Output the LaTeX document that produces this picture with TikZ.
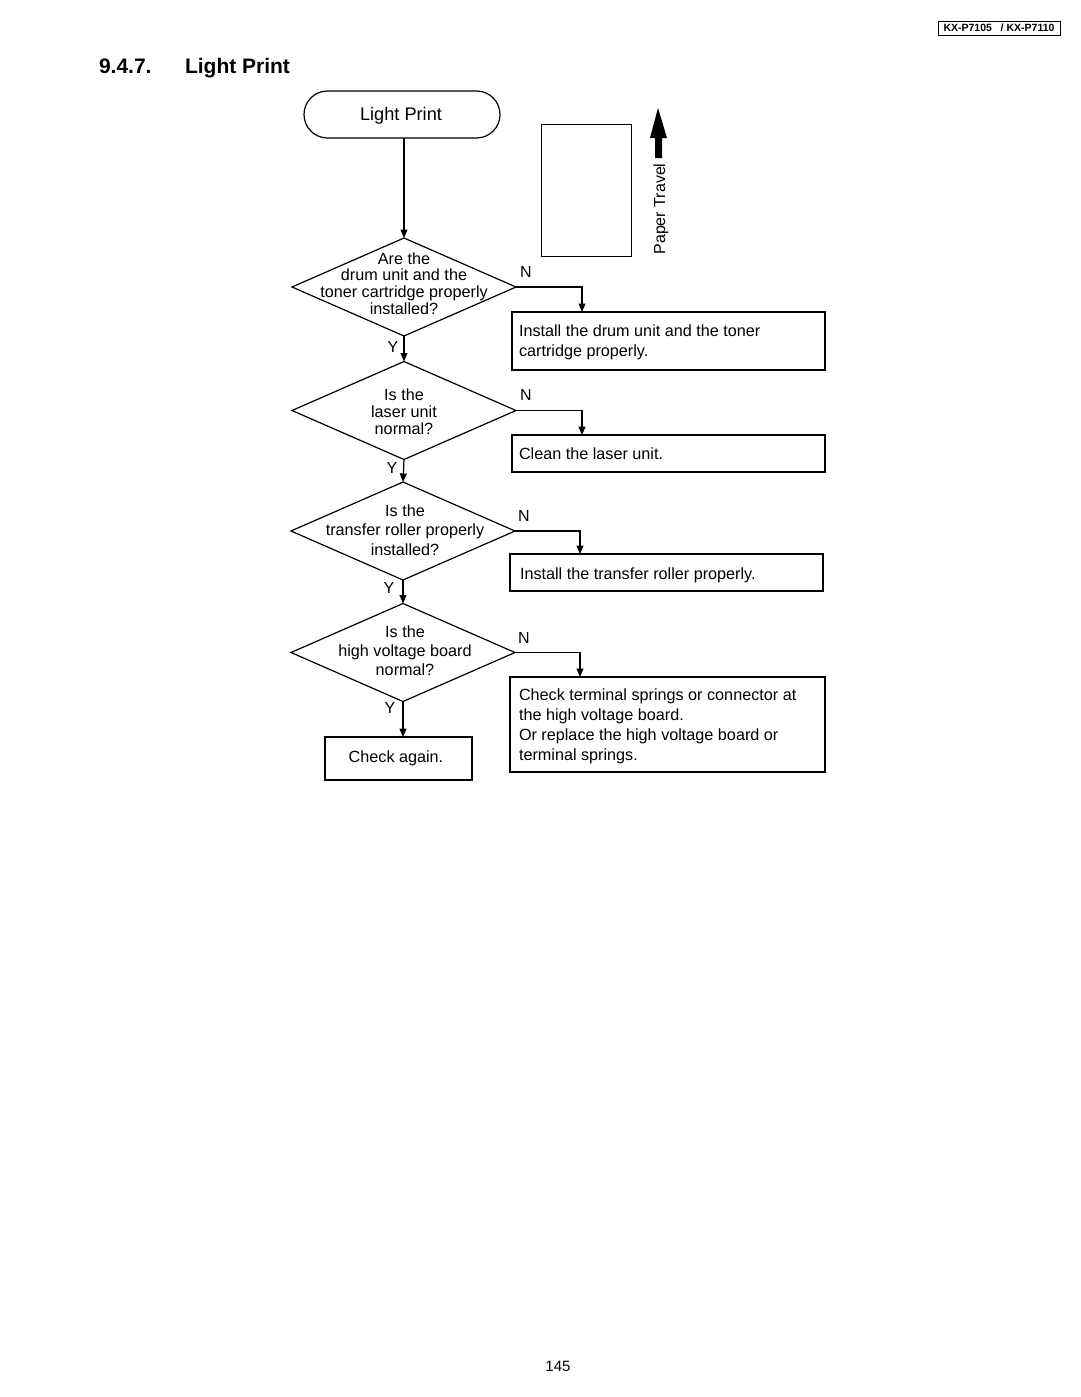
\documentclass[tikz,border=0pt]{standalone}
\usepackage{fontspec}
\setmainfont{Liberation Sans}
\usetikzlibrary{shapes.geometric,arrows.meta}
\begin{document}
\begin{tikzpicture}[x=1pt,y=-1pt,
  every node/.style={font=\fontsize{16.2}{19}\selectfont, inner sep=0pt, outer sep=0pt},
  dia/.style={diamond, draw, line width=1.2pt, minimum width=224pt, minimum height=98pt},
  dtext/.style={align=center},
  actbox/.style={rectangle, draw, line width=1.2pt, align=left, inner xsep=8pt, text width=#1},
  arr/.style={line width=1.2pt, -{Triangle[length=8.5pt,width=7pt]}},
  lab/.style={font=\fontsize{16}{19}\selectfont}
]
\fill[white] (0,0) rectangle (1080,1397);
\useasboundingbox (0,0) rectangle (1080,1397);

% header
\node[draw, line width=0.9pt, font=\bfseries\fontsize{10.5}{12}\selectfont, minimum width=122pt, minimum height=14pt] (hdr) at (999,28) {KX-P7105\ \ \ / KX-P7110};
\node[anchor=base west, font=\bfseries\fontsize{21}{25}\selectfont] (sec) at (99,74) {9.4.7.};
\node[anchor=base west, font=\bfseries\fontsize{21}{25}\selectfont] (ttl) at (185,74) {Light Print};

% start
\node[draw, line width=1.2pt, rounded corners=23.5pt, minimum width=196pt, minimum height=47pt] (term) at (402,114.5) {};
\node[font=\fontsize{18.2}{21}\selectfont] (termt) at (401,116) {Light Print};

% paper
\node[draw, line width=1pt, minimum width=90pt, minimum height=132pt] (paper) at (586,190) {};
\fill (658,108) -- (667,138) -- (662,138) -- (662,158) -- (655,158) -- (655,138) -- (650,138) -- cycle;
\node[rotate=90, font=\fontsize{16}{19}\selectfont] (trav) at (661,209) {Paper Travel};

% diamonds
\node[dia] (d1) at (404,287) {};
\node[dtext, font=\fontsize{16.2}{16.7}\selectfont] (d1t) at (404,283.5) {Are the\\drum unit and the\\toner cartridge properly\\installed?};
\node[dia] (d2) at (404,410.5) {};
\node[dtext, font=\fontsize{16.2}{17}\selectfont] (d2t) at (404,412) {Is the\\laser unit\\normal?};
\node[dia] (d3) at (403,531) {};
\node[dtext, font=\fontsize{16.2}{19.5}\selectfont] (d3t) at (405,530) {Is the\\transfer roller properly\\installed?};
\node[dia] (d4) at (403,652.5) {};
\node[dtext, font=\fontsize{16.2}{19}\selectfont] (d4t) at (405,651) {Is the\\high voltage board\\normal?};

% boxes
\node[actbox=297pt, minimum height=58pt] (b1) at (668.5,341) {};
\node[anchor=west, align=left, font=\fontsize{16.2}{20}\selectfont] (b1t) at ([xshift=7pt,yshift=-1.5pt]b1.west) {Install the drum unit and the toner\\cartridge properly.};
\node[actbox=297pt, minimum height=37pt] (b2) at (668.5,453.5) {};
\node[anchor=west] (b2t) at ([xshift=7pt]b2.west) {Clean the laser unit.};
\node[actbox=297pt, minimum height=37pt] (b3) at (666.5,572.5) {};
\node[anchor=west] (b3t) at ([xshift=10pt,yshift=-2.5pt]b3.west) {Install the transfer roller properly.};
\node[actbox=299pt, minimum height=95pt] (b4) at (667.5,724.5) {};
\node[anchor=west, align=left, font=\fontsize{16.2}{20}\selectfont] (b4t) at ([xshift=9pt,yshift=-1.5pt]b4.west) {Check terminal springs or connector at\\the high voltage board.\\Or replace the high voltage board or\\terminal springs.};
\node[draw, line width=1.2pt, minimum width=147pt, minimum height=43pt] (b5) at (398.5,758.5) {};
\node (b5t) at (396,758) {Check again.};

% page number
\node[font=\fontsize{15}{18}\selectfont] (pg) at (558,1366) {145};

% connectors
\draw[arr] (d1.north |- term.south) -- (d1.north);
\draw[arr] (d1.south) -- (d2.north);
\draw[arr] (d2.south) -- (d3.north);
\draw[arr] (d3.south) -- (d4.north);
\draw[arr] (d4.south) -- (d4.south |- b5.north);

\draw[arr] (d1.east) -| ([xshift=70pt]b1.north west);
\draw[arr] (d2.east) -| ([xshift=70pt]b2.north west);
\draw[arr] (d3.east) -| ([xshift=70pt]b3.north west);
\draw[arr] (d4.east) -| ([xshift=70pt]b4.north west);

% labels
\node[lab] (n1) at (526,272) {N};
\node[lab] (n2) at (526,395) {N};
\node[lab] (n3) at (524,516) {N};
\node[lab] (n4) at (524,638) {N};
\node[lab] (y1) at (393,347) {Y};
\node[lab] (y2) at (392,468) {Y};
\node[lab] (y3) at (389,588) {Y};
\node[lab] (y4) at (390,708) {Y};
\end{tikzpicture}
\end{document}
